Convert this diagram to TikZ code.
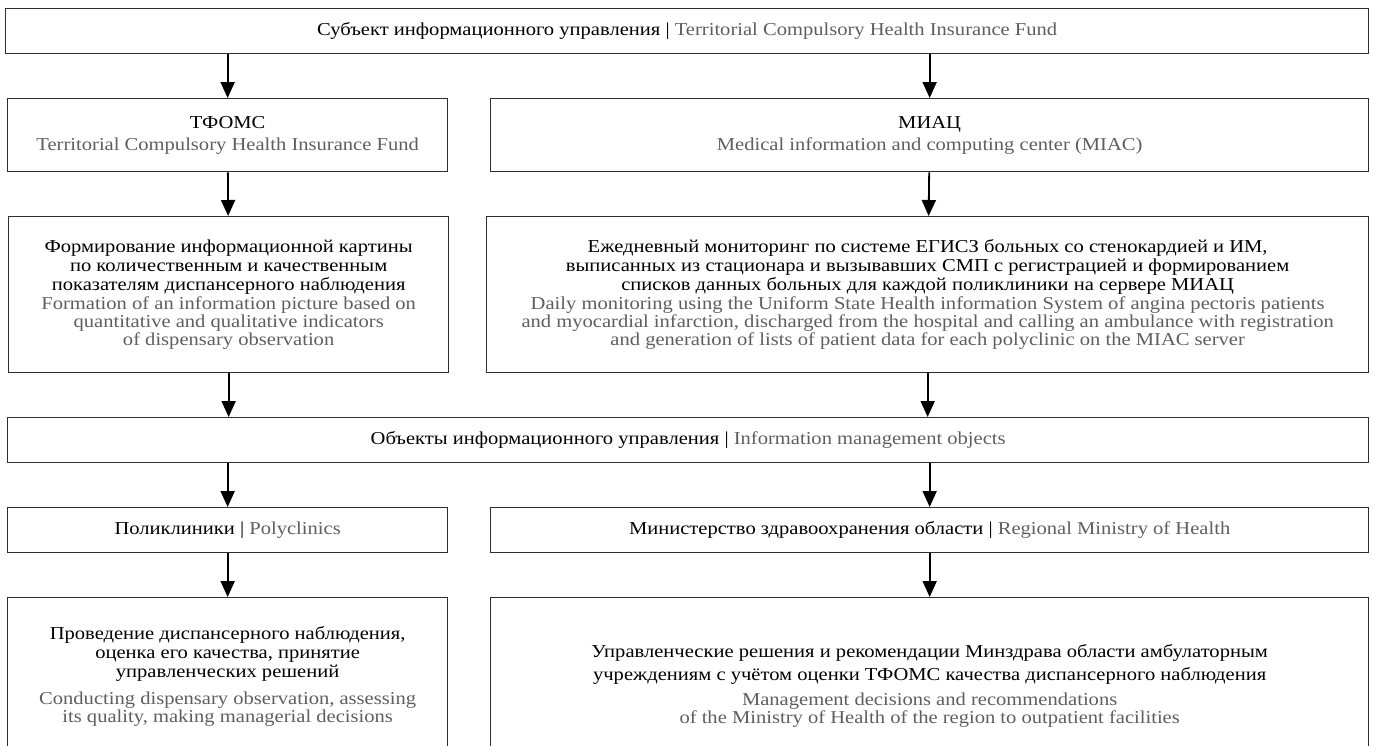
\documentclass[tikz,border=0pt]{standalone}
\usepackage{fontspec}
\setmainfont{Liberation Serif}[FakeStretch=1.13]
\usetikzlibrary{positioning, arrows.meta}
\definecolor{engl}{HTML}{5E5E5E}
\definecolor{frame}{HTML}{2E2E2E}
\newcommand{\entext}[1]{{\color{engl}#1}}

\begin{document}
\begin{tikzpicture}[x=1pt, y=-1pt, >={Triangle[width=14pt,length=16pt]},
    box/.style={draw=frame, line width=1.3pt, rectangle, align=center,
      inner sep=0pt, anchor=north west,
      font=\fontsize{18.2}{19}\selectfont}]
  \path[use as bounding box, clip] (0,0) rectangle (1373,745);

  % subject of information management
  \node[box, minimum width=1363pt, minimum height=45pt] (subj) at (5,8)
    {Субъект информационного управления | \entext{Territorial Compulsory Health Insurance Fund}};

  \node[box, minimum width=440pt, minimum height=73pt] (tfoms) at (7,98)
    {ТФОМС\\[3pt] \entext{Territorial Compulsory Health Insurance Fund}};
  \node[box, minimum width=878pt, minimum height=73pt] (miac) at (490,98)
    {МИАЦ\\[3pt] \entext{Medical information and computing center (MIAC)}};

  \node[box, minimum width=440pt, minimum height=156pt] (form) at (8,216)
    {Формирование информационной картины\\
     по количественным и качественным\\
     показателям диспансерного наблюдения\\
     \entext{Formation of an information picture based on}\\[-1pt]
     \entext{quantitative and qualitative indicators}\\[-1pt]
     \entext{of dispensary observation}};
  \node[box, minimum width=882pt, minimum height=156pt] (monit) at (486,216)
    {Ежедневный мониторинг по системе ЕГИСЗ больных со стенокардией и ИМ,\\
     выписанных из стационара и вызывавших СМП с регистрацией и формированием\\
     списков данных больных для каждой поликлиники на сервере МИАЦ\\
     \entext{Daily monitoring using the Uniform State Health information System of angina pectoris patients}\\[-1pt]
     \entext{and myocardial infarction, discharged from the hospital and calling an ambulance with registration}\\[-1pt]
     \entext{and generation of lists of patient data for each polyclinic on the MIAC server}};

  % objects of information management
  \node[box, minimum width=1361pt, minimum height=45pt] (obj) at (7,417)
    {Объекты информационного управления | \entext{Information management objects}};

  \node[box, minimum width=440pt, minimum height=45pt] (poly) at (7,507)
    {Поликлиники | \entext{Polyclinics}};
  \node[box, minimum width=878pt, minimum height=45pt] (minz) at (490,507)
    {Министерство здравоохранения области | \entext{Regional Ministry of Health}};

  \node[box, minimum width=440pt, minimum height=157pt] (cond) at (7,597)
    {Проведение диспансерного наблюдения,\\
     оценка его качества, принятие\\
     управленческих решений\\[8pt]
     \entext{Conducting dispensary observation, assessing}\\[-1pt]
     \entext{its quality, making managerial decisions}};
  \node[box, minimum width=878pt, minimum height=176pt] (decis) at (490,597)
    {Управленческие решения и рекомендации Минздрава области амбулаторным\\[4pt]
     учреждениям с учётом оценки ТФОМС качества диспансерного наблюдения\\[6pt]
     \entext{Management decisions and recommendations}\\[-1pt]
     \entext{of the Ministry of Health of the region to outpatient facilities}};

  \path[->, line width=1.8pt]
  (tfoms |- subj.south) edge (tfoms)
  (miac |- subj.south) edge (miac)
  (tfoms) edge (form)
  (miac) edge (monit)
  (form) edge (form |- obj.north)
  (monit) edge (monit |- obj.north)
  (poly |- obj.south) edge (poly)
  (minz |- obj.south) edge (minz)
  (poly) edge (cond)
  (minz) edge (decis)
  ;
\end{tikzpicture}
\end{document}
